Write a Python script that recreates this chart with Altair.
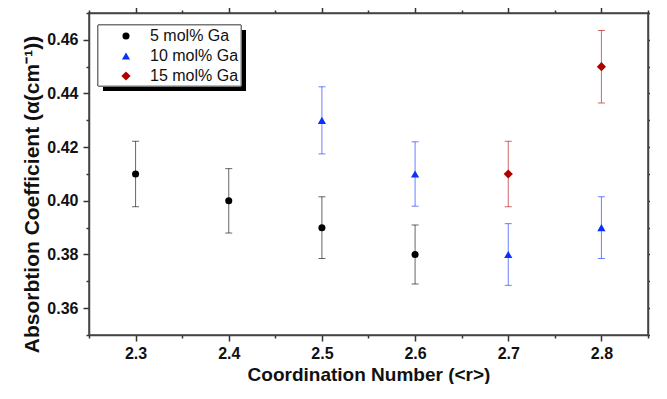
import altair as alt
import pandas as pd

series = ["5 mol% Ga", "10 mol% Ga", "15 mol% Ga"]
x_5 = [2.3, 2.4, 2.5, 2.6]
y_5 = [0.41, 0.40, 0.39, 0.38]
e_5 = [0.0122, 0.0120, 0.0115, 0.0110]
x_10 = [2.5, 2.6, 2.7, 2.8]
y_10 = [0.43, 0.41, 0.38, 0.39]
e_10 = [0.0125, 0.0120, 0.0115, 0.0115]
x_15 = [2.7, 2.8]
y_15 = [0.41, 0.45]
e_15 = [0.0122, 0.0135]

colors = ["#000000", "#0a2fff", "#b00000"]
shapes = ["circle", "triangle-up", "diamond"]
sizes = [50, 85, 80]

x_ticks = [round(2.25 + 0.05 * i, 2) for i in range(13)]
y_ticks = [round(0.35 + 0.01 * i, 2) for i in range(13)]

rows = []
for name, xs, ys, es in [(series[0], x_5, y_5, e_5), (series[1], x_10, y_10, e_10), (series[2], x_15, y_15, e_15)]:
    for xv, yv, ev in zip(xs, ys, es):
        rows.append({"series": name, "r": xv, "alpha": yv, "lo": yv - ev, "hi": yv + ev})
df = pd.DataFrame(rows)

FONT = "Liberation Sans"
xscale = alt.Scale(domain=[2.25, 2.85], nice=False, zero=False)
yscale = alt.Scale(domain=[0.35, 0.47], nice=False, zero=False)
legend = alt.Legend(title=None, orient="none", legendX=29, legendY=15,
                    padding=0, labelFont=FONT, labelFontSize=16, labelColor="#111",
                    symbolOffset=0, labelOffset=16,
                    rowPadding=4, symbolStrokeWidth=0, symbolOpacity=1)
color = alt.Color("series:N", scale=alt.Scale(domain=series, range=colors), legend=legend)
shape = alt.Shape("series:N", scale=alt.Scale(domain=series, range=shapes), legend=legend)
size = alt.Size("series:N", scale=alt.Scale(domain=series, range=sizes), legend=legend)

xmaj = "round(datum.value*20) % 2 == 0"
ymaj = "round(datum.value*100) % 2 == 0"

def xaxis(orient, labels):
    if labels:
        kw = dict(title="Coordination Number (<r>)", titleFont=FONT, titleFontSize=19,
                  titleFontWeight="bold", titleColor="#111", titleBaseline="middle", titleY=39)
    else:
        kw = dict(title=None)
    return alt.Axis(orient=orient, values=x_ticks, grid=False,
                    labels=labels, labelExpr=f"{xmaj} ? format(datum.value, '.1f') : ''",
                    tickSize={"condition": {"test": xmaj, "value": 6}, "value": 3},
                    tickColor="#333", tickWidth=1.5, domainColor="#444", domainWidth=1.5,
                    labelFont=FONT, labelFontSize=16, labelFontWeight="bold", labelColor="#111",
                    labelPadding=4, **kw)

def yaxis(orient, labels):
    if labels:
        kw = dict(title="Absorbtion Coefficient (α(cm⁻¹))", titleFont=FONT, titleFontSize=21,
                  titleFontWeight="bold", titleColor="#111", titleBaseline="middle",
                  titleX=-57, titleY=181, titleAngle=270)
    else:
        kw = dict(title=None)
    return alt.Axis(orient=orient, values=y_ticks, grid=False,
                    labels=labels, labelExpr=f"{ymaj} ? format(datum.value, '.2f') : ''",
                    tickSize={"condition": {"test": ymaj, "value": 6}, "value": 3},
                    tickColor="#333", tickWidth=1.5, domainColor="#444", domainWidth=1.5,
                    labelFont=FONT, labelFontSize=16, labelFontWeight="bold", labelColor="#111",
                    labelPadding=5, **kw)

base = alt.Chart(df)

shadow = alt.Chart(df).mark_rect(color="black").encode(
    x=alt.value(14), x2=alt.value(157), y=alt.value(17), y2=alt.value(78))
box = alt.Chart(df).mark_rect(fill="white", stroke="#777", strokeWidth=1).encode(
    x=alt.value(9), x2=alt.value(152), y=alt.value(12), y2=alt.value(73))

bars = base.mark_errorbar(ticks={"size": 7, "thickness": 1}, thickness=1, opacity=0.6).encode(
    x=alt.X("r:Q", scale=xscale, axis=None),
    y=alt.Y("lo:Q", scale=yscale, axis=None),
    y2="hi:Q",
    color=color)

points = base.mark_point(filled=True, opacity=1).encode(
    x=alt.X("r:Q", scale=xscale, axis=xaxis("bottom", True)),
    y=alt.Y("alpha:Q", scale=yscale, axis=yaxis("left", True)),
    color=color, shape=shape, size=size)

ghost = base.mark_point(opacity=0).encode(
    x=alt.X("r:Q", scale=xscale, axis=xaxis("top", False)),
    y=alt.Y("alpha:Q", scale=yscale, axis=yaxis("right", False)))

chart = alt.layer(shadow, box, bars, points, ghost).resolve_axis(
    x="independent", y="independent"
).properties(
    width=559, height=322,
    autosize=alt.AutoSizeParams(type="none"),
    padding={"left": 81, "top": 5, "right": 2, "bottom": 49},
).configure_view(stroke="#444", strokeWidth=1.5)

chart.save("out.html", embed_options={"renderer": "svg", "actions": False})
